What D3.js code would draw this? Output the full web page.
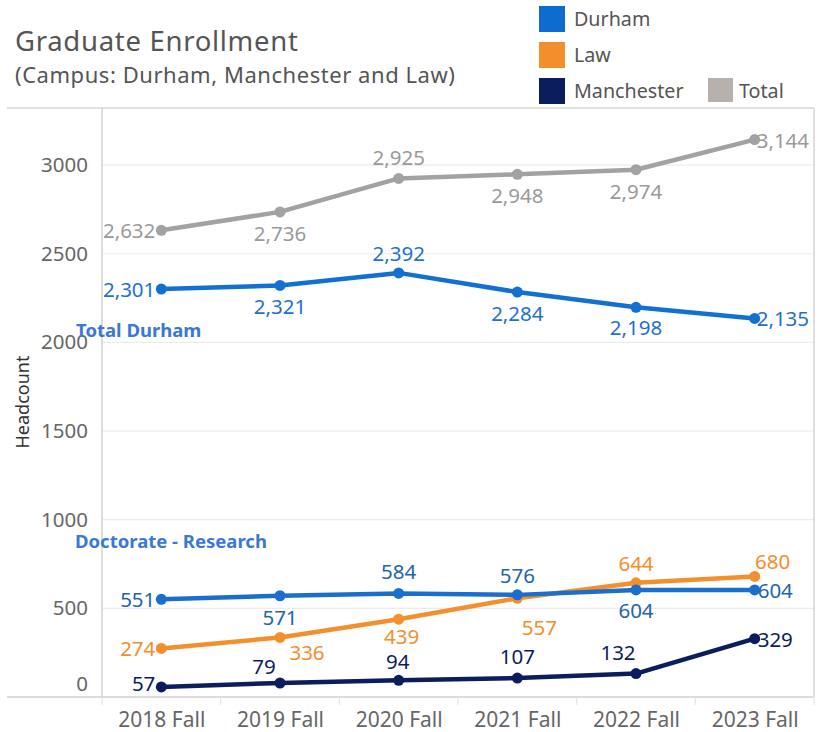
<!DOCTYPE html>
<html>
<head>
<meta charset="utf-8">
<script src="https://cdn.jsdelivr.net/npm/d3@7"></script>
<style>
  body { margin: 0; background: #fff; }
  svg text { font-family: "Noto Sans", "Open Sans", sans-serif; }
</style>
</head>
<body>
<svg width="824" height="732"></svg>
<script>
// data
var terms = ["2018 Fall", "2019 Fall", "2020 Fall", "2021 Fall", "2022 Fall", "2023 Fall"];
var totalAll = [2632, 2736, 2925, 2948, 2974, 3144];
var durhamTotal = [2301, 2321, 2392, 2284, 2198, 2135];
var durhamDoctorate = [551, 571, 584, 576, 604, 604];
var lawVals = [274, 336, 439, 557, 644, 680];
var manchesterVals = [57, 79, 94, 107, 132, 329];
var yTicks = [0, 500, 1000, 1500, 2000, 2500, 3000];

var legendItems = ["Durham", "Law", "Manchester"];

var svg = d3.select("svg"),
    width = +svg.attr("width"),
    height = +svg.attr("height");

var pLeft = 102, pRight = 814, pTop = 108, pBottom = 697;

var x = d3.scalePoint().domain(terms).range([pLeft, pRight]).padding(0.5);
var y = d3.scaleLinear().domain([0, 3322]).range([pBottom, pTop]);

var fmt = d3.format(",");

// title
svg.append("text").attr("x", 15).attr("y", 51).attr("letter-spacing", 0.7)
    .attr("font-size", 27.5).attr("fill", "#555").text("Graduate Enrollment");
svg.append("text").attr("x", 15).attr("y", 83).attr("letter-spacing", 0.55)
    .attr("font-size", 22).attr("fill", "#555").text("(Campus: Durham, Manchester and Law)");

// legend
var legColor = d3.scaleOrdinal().domain(legendItems).range(["#0e6cd0", "#f28e2b", "#0b1d5c"]);
var leg = svg.append("g");
legendItems.forEach(function(k, i) {
  leg.append("rect").attr("x", 539).attr("y", 6 + i * 36).attr("width", 26).attr("height", 26)
      .attr("fill", legColor(k));
  leg.append("text").attr("x", 574).attr("y", 26 + i * 36).attr("font-size", 19.7)
      .attr("fill", "#555").text(k);
});
leg.append("rect").attr("x", 708).attr("y", 78).attr("width", 25).attr("height", 24).attr("fill", "#b8b0aa");
leg.append("text").attr("x", 739).attr("y", 98).attr("font-size", 19.7).attr("fill", "#555").text("Total");

// frame + grid
svg.append("g").selectAll("line.grid")
  .data(yTicks.filter(function(d) { return d > 0; }))
  .enter().append("line")
    .attr("x1", pLeft).attr("x2", pRight)
    .attr("y1", function(d) { return y(d); }).attr("y2", function(d) { return y(d); })
    .attr("stroke", "#ececec").attr("stroke-width", 1.2);

svg.append("line").attr("x1", 7).attr("x2", pRight).attr("y1", pTop).attr("y2", pTop)
    .attr("stroke", "#d4d4d4").attr("stroke-width", 1.5);
svg.append("line").attr("x1", pRight).attr("x2", pRight).attr("y1", pTop).attr("y2", pBottom)
    .attr("stroke", "#d4d4d4").attr("stroke-width", 1.5);
svg.append("line").attr("x1", pLeft).attr("x2", pLeft).attr("y1", pTop).attr("y2", pBottom)
    .attr("stroke", "#d0d0d0").attr("stroke-width", 1.5);
svg.append("line").attr("x1", 7).attr("x2", pRight).attr("y1", pBottom).attr("y2", pBottom)
    .attr("stroke", "#d0d0d0").attr("stroke-width", 1.5);

// y axis labels
var yAxis = svg.append("g").attr("transform", "translate(" + (pLeft - 14) + ",0)")
  .call(d3.axisLeft(y).tickValues(yTicks).tickFormat(d3.format("d")).tickSize(0).tickPadding(0));
yAxis.select(".domain").remove();
yAxis.selectAll("text")
    .attr("font-size", 20.5).attr("fill", "#666")
    .attr("font-family", "Noto Sans, sans-serif")
    .attr("y", function(d) { return d === 0 ? -13 : 0; });

svg.append("text")
    .attr("transform", "translate(29,402) rotate(-90)")
    .attr("text-anchor", "middle").attr("font-size", 18).attr("fill", "#333")
    .text("Headcount");

// x axis
var step = x.step();
svg.append("g").selectAll("line")
  .data(d3.range(terms.length + 1))
  .enter().append("line")
    .attr("x1", function(i) { return pLeft + i * step; })
    .attr("x2", function(i) { return pLeft + i * step; })
    .attr("y1", pBottom).attr("y2", pBottom + 8)
    .attr("stroke", "#e4e4e4").attr("stroke-width", 1.2);

var xAxis = svg.append("g").attr("transform", "translate(0," + pBottom + ")")
  .call(d3.axisBottom(x).tickSize(0).tickPadding(15));
xAxis.select(".domain").remove();
xAxis.selectAll("text").attr("font-size", 21).attr("fill", "#666")
    .attr("font-family", "Noto Sans, sans-serif");

// series; lab = [dx, dy, anchor] of each value label, relative to its point
var series = [
  { vals: totalAll, color: "#a2a2a2", label: "#9a9a9a",
    lab: [[-6, 0, "end"], [0, 21, "middle"], [0, -21, "middle"], [0, 21, "middle"], [0, 21, "middle"], [2, 0, "start"]] },
  { vals: durhamTotal, color: "#1270d0", label: "#1c72d0",
    lab: [[-6, 0, "end"], [0, 21, "middle"], [0, -20, "middle"], [0, 21, "middle"], [0, 20, "middle"], [2, 0, "start"]] },
  { vals: lawVals, color: "#f3902d", label: "#f28e2b",
    lab: [[-6, 0, "end"], [27, 15, "middle"], [3, 17, "middle"], [22, 29, "middle"], [0, -20, "middle"], [18, -15, "middle"]] },
  { vals: durhamDoctorate, color: "#1a6fcc", label: "#2464ad",
    lab: [[-6, 0, "end"], [0, 21, "middle"], [0, -22, "middle"], [0, -20, "middle"], [0, 20, "middle"], [3, 0, "start"]] },
  { vals: manchesterVals, color: "#0b1d5c", label: "#0b1d5c",
    lab: [[-6, -4, "end"], [-16, -17, "middle"], [-1, -19, "middle"], [0, -22, "middle"], [-18, -22, "middle"], [3, 0, "start"]] }
];

var line = d3.line()
    .x(function(d, i) { return x(terms[i]); })
    .y(function(d) { return y(d); });

// labels first so the points sit on top of them, as in the original
series.forEach(function(s) {
  svg.append("g").selectAll("text").data(s.vals).enter().append("text")
      .attr("font-size", 20.5).attr("fill", s.label)
      .attr("dominant-baseline", "central")
      .attr("x", function(d, i) { return x(terms[i]) + s.lab[i][0]; })
      .attr("y", function(d, i) { return y(d) + s.lab[i][1]; })
      .attr("text-anchor", function(d, i) { return s.lab[i][2]; })
      .text(function(d) { return fmt(d); });
});

series.forEach(function(s) {
  var g = svg.append("g");
  g.append("path").datum(s.vals).attr("d", line)
      .attr("fill", "none").attr("stroke", s.color).attr("stroke-width", 4.5)
      .attr("stroke-linejoin", "round");
  g.selectAll("circle").data(s.vals).enter().append("circle")
      .attr("cx", function(d, i) { return x(terms[i]); })
      .attr("cy", function(d) { return y(d); })
      .attr("r", 5.5).attr("fill", s.color);
});

// annotations
svg.append("text").attr("x", 76).attr("y", 337).attr("font-size", 18.5).attr("font-weight", "bold")
    .attr("fill", "#3a78d6").text("Total Durham");
svg.append("text").attr("x", 75).attr("y", 548).attr("font-size", 18.5).attr("font-weight", "bold")
    .attr("fill", "#3a78d6").text("Doctorate - Research");
</script>
</body>
</html>
